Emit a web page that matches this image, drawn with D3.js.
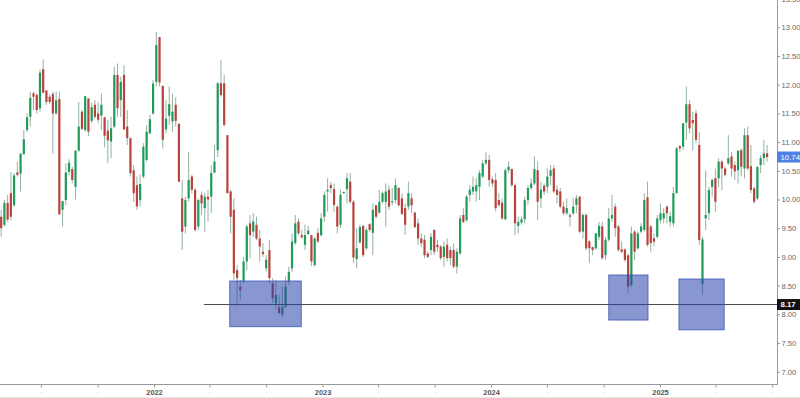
<!DOCTYPE html>
<html><head><meta charset="utf-8">
<script src="https://cdn.jsdelivr.net/npm/d3@7"></script>
<style>
body{margin:0;background:#fff;}
svg{display:block;font-family:"Liberation Sans",Arial,sans-serif;}
</style>
</head><body>
<svg id="c" width="800" height="398"></svg>
<script>
// ---- data (weekly candles) ----
const firstWeek = "2021-02-04";
const open = [9.70,9.56,9.94,10.11,9.90,10.47,10.45,10.79,11.21,11.44,11.85,11.82,11.59,12.27,11.90,11.79,11.84,11.50,11.75,9.82,
9.99,10.48,10.53,10.22,10.85,11.53,11.21,11.76,11.37,11.65,11.50,11.46,11.43,11.20,11.01,11.27,12.17,11.73,12.17,11.27,
11.07,10.51,10.25,9.99,10.40,10.69,11.15,11.50,12.05,12.83,11.98,11.22,11.46,11.36,11.65,11.32,10.02,9.53,10.02,10.40,
10.17,9.53,10.08,9.85,10.05,10.05,10.47,10.86,12.025,12.025,11.12,10.14,9.82,8.77,8.48,8.57,8.92,9.585,9.44,9.56,
9.32,9.09,8.80,9.12,8.54,8.19,8.12,7.99,8.13,8.57,8.80,9.24,9.615,9.38,9.21,9.40,9.38,8.86,9.42,9.38,
9.70,10.14,10.25,10.18,9.875,9.56,10.11,10.18,10.31,9.96,8.96,9.25,9.54,9.15,9.57,9.42,9.90,9.77,9.96,9.96,
10.17,9.95,9.99,10.20,10.02,9.85,9.875,10.02,9.77,9.585,9.32,9.30,9.06,9.12,9.47,9.21,9.18,9.00,9.21,9.12,
9.12,8.83,9.06,9.73,9.64,10.08,10.14,10.14,10.22,10.40,10.63,10.69,10.35,10.34,9.99,9.945,9.655,10.51,10.53,10.25,
9.54,9.60,9.655,9.99,10.20,10.28,10.51,10.02,10.24,10.22,10.41,10.54,10.17,10.14,9.875,9.76,9.725,9.76,9.905,10.05,
9.44,9.73,9.27,9.17,9.15,9.35,9.53,9.03,9.30,9.67,9.875,9.53,9.13,9.13,9.03,8.51,9.44,9.15,9.44,9.47,
10.04,9.53,9.325,9.35,9.64,9.67,9.875,9.61,9.585,10.11,10.93,10.92,11.34,11.66,11.385,11.50,10.95,8.53,9.67,9.76,
10.22,10.37,10.37,10.66,10.54,10.63,10.75,10.60,10.51,10.86,10.54,11.12,10.58,10.195,10.02,10.60,10.72,10.805];
const high = [9.82,9.99,10.08,10.48,10.46,10.66,10.80,11.21,11.50,11.88,11.88,11.85,12.26,12.44,11.90,11.83,11.88,11.88,11.88,9.97,
10.63,10.70,10.57,10.86,11.70,11.56,11.80,11.76,11.69,11.73,11.70,11.85,11.44,11.39,11.44,12.31,12.37,12.14,12.34,11.56,
11.07,10.60,10.40,10.44,10.98,11.30,11.47,12.08,12.92,12.83,11.98,11.73,11.97,11.84,11.78,11.32,10.34,10.05,10.83,10.43,
10.20,10.02,10.14,10.12,10.17,10.60,10.95,12.05,12.43,12.17,11.12,10.17,10.02,8.86,8.60,9.00,9.56,9.73,9.76,9.70,
9.47,9.24,9.03,9.29,8.63,8.60,8.34,8.48,8.66,8.83,9.41,9.73,9.67,9.47,9.56,9.54,9.38,9.35,9.50,9.76,
10.14,10.37,10.31,10.28,9.90,10.17,10.14,10.46,10.46,9.99,9.50,9.56,9.56,9.50,9.585,9.93,9.90,10.17,10.14,10.28,
10.25,10.20,10.37,10.22,10.11,9.93,10.31,10.11,9.79,9.67,9.41,9.38,9.09,9.41,9.48,9.30,9.21,9.27,9.32,9.18,
9.24,9.15,9.73,9.85,10.08,10.25,10.40,10.37,10.51,10.69,10.82,10.775,10.40,10.46,10.11,10.02,10.54,10.66,10.54,10.28,
9.70,9.70,10.05,10.25,10.37,10.75,10.66,10.31,10.28,10.54,10.60,10.60,10.25,10.20,9.96,10.02,9.76,10.02,10.08,10.06,
9.76,9.76,9.30,9.18,9.42,9.61,9.61,9.35,9.85,10.08,9.93,9.56,9.265,9.15,9.06,9.53,9.47,9.44,9.585,10.11,
10.31,9.56,9.41,9.73,9.93,9.85,9.90,9.79,10.22,10.92,10.95,11.33,11.97,11.73,11.53,11.56,11.18,9.35,10.51,10.22,
10.37,10.54,10.72,10.69,10.57,11.12,10.83,10.66,10.86,10.89,11.24,11.27,10.95,10.22,10.57,10.775,11.04,10.95];
const low = [9.35,9.53,9.61,9.64,9.87,10.40,10.14,10.78,11.18,11.27,11.56,11.50,11.53,11.85,11.65,11.66,10.80,11.48,9.74,9.53,
9.90,10.42,10.28,10.00,10.83,11.21,11.18,11.10,11.33,11.41,11.33,11.21,10.91,10.63,10.72,11.24,11.44,11.44,11.21,10.95,
10.40,9.96,9.82,9.88,10.37,10.66,11.15,11.47,11.97,11.97,10.89,11.15,11.30,11.18,11.27,10.31,9.12,9.41,9.96,10.11,
9.44,9.47,9.73,9.44,9.61,9.76,10.46,10.74,11.79,11.27,10.11,9.41,8.60,8.135,8.25,8.54,8.77,8.975,9.35,9.29,
8.92,9.00,8.74,8.54,8.19,8.08,8.01,7.96,8.11,8.51,8.74,9.21,9.38,9.32,9.12,9.38,8.84,8.83,9.24,9.35,
9.61,9.79,10.11,9.79,9.41,9.50,10.10,9.93,9.93,8.89,8.80,9.23,9.00,9.12,9.44,9.03,9.67,9.75,9.93,9.53,
9.82,9.90,9.93,9.875,9.73,9.38,9.82,9.76,9.50,9.21,9.18,8.98,8.98,9.03,9.03,9.09,8.95,8.83,8.92,8.86,
8.80,8.71,9.03,9.585,9.61,9.96,10.08,9.96,9.99,10.37,10.60,10.22,10.22,9.79,9.875,9.64,9.64,10.46,10.22,9.38,
9.41,9.56,9.585,9.905,10.17,10.25,9.64,9.85,10.08,10.11,10.25,10.11,9.93,9.85,9.73,9.73,9.53,9.73,9.76,9.41,
9.32,9.12,8.89,9.03,9.12,9.30,8.95,8.95,9.27,9.61,9.35,9.09,9.06,8.92,8.365,8.48,8.945,9.12,9.41,9.44,
9.18,9.09,9.18,9.325,9.585,9.585,9.585,9.53,9.53,10.11,10.83,10.86,11.04,11.15,10.86,10.98,9.21,8.34,9.47,9.64,
10.05,9.79,10.22,10.165,10.40,10.60,10.40,10.34,10.28,10.40,10.37,10.51,10.11,9.93,9.99,10.46,10.60,10.66];
const close = [9.50,9.94,9.65,9.70,10.42,10.43,10.80,11.05,11.43,11.77,11.79,11.56,12.21,11.86,11.70,11.70,11.50,11.73,9.74,9.97,
10.47,10.64,10.34,10.85,11.27,11.23,11.80,11.18,11.61,11.44,11.39,11.65,11.11,11.03,11.24,12.17,11.59,12.05,11.22,11.07,
10.46,10.11,9.88,10.27,10.92,11.18,11.40,12.02,12.69,12.04,11.04,11.41,11.66,11.53,11.37,10.31,9.44,9.99,10.34,10.17,
9.47,9.99,9.93,10.05,10.00,10.46,10.66,12.025,11.82,11.30,10.11,9.70,8.715,8.63,8.42,8.92,9.53,9.38,9.615,9.32,
9.18,9.05,8.95,8.63,8.28,8.34,8.02,8.13,8.48,8.74,9.27,9.585,9.41,9.34,9.38,9.46,8.92,9.32,9.27,9.67,
10.08,10.17,10.20,9.905,9.53,10.08,10.13,10.37,9.96,8.99,9.15,9.52,9.03,9.47,9.47,9.82,9.70,9.96,10.11,10.14,
9.875,9.97,10.25,9.90,9.75,9.56,10.11,9.90,9.52,9.32,9.24,9.03,9.00,9.35,9.09,9.17,8.98,9.18,8.98,8.98,
8.83,9.09,9.67,9.61,10.05,10.17,10.22,10.25,10.46,10.63,10.69,10.34,10.28,9.85,9.905,9.67,10.51,10.57,10.25,9.585,
9.61,9.655,9.99,10.20,10.28,10.53,9.96,10.17,10.14,10.40,10.51,10.14,10.08,9.875,9.76,9.85,9.70,9.875,10.02,9.44,
9.73,9.15,9.15,9.12,9.41,9.54,8.98,9.30,9.67,9.73,9.50,9.12,9.09,8.945,8.48,9.41,9.09,9.41,9.53,9.99,
9.21,9.24,9.265,9.67,9.76,9.76,9.76,9.71,10.11,10.89,10.89,11.33,11.66,11.24,11.33,11.04,9.295,9.305,9.73,10.165,
10.34,9.96,10.66,10.54,10.43,10.72,10.54,10.49,10.85,10.57,11.12,10.54,10.165,9.96,10.57,10.72,10.805,10.74];

const priceTicks = [7.0,7.5,8.0,8.5,9.0,9.5,10.0,10.5,11.0,11.5,12.0,12.5,13.0,13.5];
const timeTicks = ["2021-05-01","2021-09-01","2022-01-01","2022-05-01","2022-09-01","2023-01-01","2023-05-01",
  "2023-09-01","2024-01-01","2024-05-01","2024-09-01","2025-01-01","2025-05-01","2025-09-01"];
const lastPrice = 10.74;
const levelPrice = 8.17;
const levelStart = "2022-04-19";
const zoneStart = ["2022-06-14","2024-09-12","2025-02-11"];
const zoneEnd   = ["2022-11-16","2024-12-06","2025-05-20"];
const zoneLow   = [7.784, 7.90, 7.73];
const zoneHigh  = [8.58, 8.685, 8.615];

// ---- scales ----
const parse = d3.utcParse("%Y-%m-%d");
const x = d3.scaleUtc().domain([parse("2022-01-01"), parse("2025-01-01")]).range([154, 660]);
const y = d3.scaleLinear().domain([7, 13]).range([371.7, 27.3]);
const axisX = 777, axisY = 384.5;

const svg = d3.select("#c");
const start = parse(firstWeek);
const candles = open.map((o, i) => ({
  date: d3.utcDay.offset(start, 7 * i), o, h: high[i], l: low[i], c: close[i]
}));

const green = "#1f9a5b", red = "#b8423c", wick = "#93b1a1";
const bw = 2.2;

const cg = svg.append("g");
cg.selectAll("line.w").data(candles).join("line")
  .attr("x1", d => x(d.date)).attr("x2", d => x(d.date))
  .attr("y1", d => y(d.h)).attr("y2", d => y(d.l))
  .attr("stroke", wick).attr("stroke-width", 1);
cg.selectAll("rect.b").data(candles).join("rect")
  .attr("x", d => x(d.date) - bw / 2).attr("width", bw)
  .attr("y", d => y(Math.max(d.o, d.c)))
  .attr("height", d => Math.max(1, Math.abs(y(d.o) - y(d.c))))
  .attr("fill", d => d.c >= d.o ? green : red);

// level line
svg.append("line")
  .attr("x1", x(parse(levelStart))).attr("x2", axisX)
  .attr("y1", y(levelPrice)).attr("y2", y(levelPrice))
  .attr("stroke", "#4a4a4a").attr("stroke-width", 1);

// zones
svg.append("g").selectAll("rect").data(zoneStart.map((s, i) => i)).join("rect")
  .attr("x", i => x(parse(zoneStart[i])))
  .attr("width", i => x(parse(zoneEnd[i])) - x(parse(zoneStart[i])))
  .attr("y", i => y(zoneHigh[i]))
  .attr("height", i => y(zoneLow[i]) - y(zoneHigh[i]))
  .attr("fill", "rgba(40,66,172,0.55)")
  .attr("stroke", "rgba(60,85,185,0.8)").attr("stroke-width", 1);

// right axis
const ya = svg.append("g").attr("transform", `translate(${axisX},0)`)
  .call(d3.axisRight(y).tickValues(priceTicks).tickFormat(d3.format(".2f")).tickSize(3).tickPadding(1.5));
ya.select(".domain").remove();
ya.selectAll(".tick line").attr("stroke", "#999");
ya.selectAll(".tick text").attr("fill", "#666").style("font-size", "7.6px").style("font-family", "Liberation Sans, Arial, sans-serif");
svg.append("line").attr("x1", axisX + 0.5).attr("x2", axisX + 0.5).attr("y1", 0).attr("y2", axisY + 0.5)
  .attr("stroke", "#999").attr("stroke-width", 1);

// bottom axis
const xa = svg.append("g").attr("transform", `translate(0,${axisY})`)
  .call(d3.axisBottom(x).tickValues(timeTicks.map(parse))
    .tickFormat(d => d.getUTCMonth() === 0 ? d3.utcFormat("%Y")(d) : "")
    .tickSize(3).tickPadding(2.5));
xa.select(".domain").remove();
xa.selectAll(".tick line").attr("stroke", "#999");
xa.selectAll(".tick text").attr("fill", "#555").style("font-size", "7.4px").style("font-weight", "bold")
  .style("font-family", "Liberation Sans, Arial, sans-serif");
xa.selectAll(".tick").append("rect").attr("x", -0.5).attr("y", 8).attr("width", 1).attr("height", 1).attr("fill", "#ccc");
svg.append("line").attr("x1", 0).attr("x2", axisX + 1).attr("y1", axisY).attr("y2", axisY)
  .attr("stroke", "#999").attr("stroke-width", 1);
svg.append("line").attr("x1", 0).attr("x2", 800).attr("y1", 397.5).attr("y2", 397.5)
  .attr("stroke", "#e6e6e6").attr("stroke-width", 1);

// price labels
function priceTag(v, bg, bold) {
  const g = svg.append("g").attr("transform", `translate(${axisX},${y(v)})`);
  g.append("rect").attr("x", 0).attr("y", -5.5).attr("width", 23).attr("height", 11).attr("fill", bg);
  g.append("text").attr("x", 3.5).attr("y", 0).attr("dy", "0.36em").attr("fill", "#fff")
    .style("font-size", "7.8px").style("font-weight", bold ? "bold" : "normal")
    .text(d3.format(".2f")(v));
}
priceTag(lastPrice, "#4f80e6", false);
priceTag(levelPrice, "#111", true);
</script>
</body></html>
